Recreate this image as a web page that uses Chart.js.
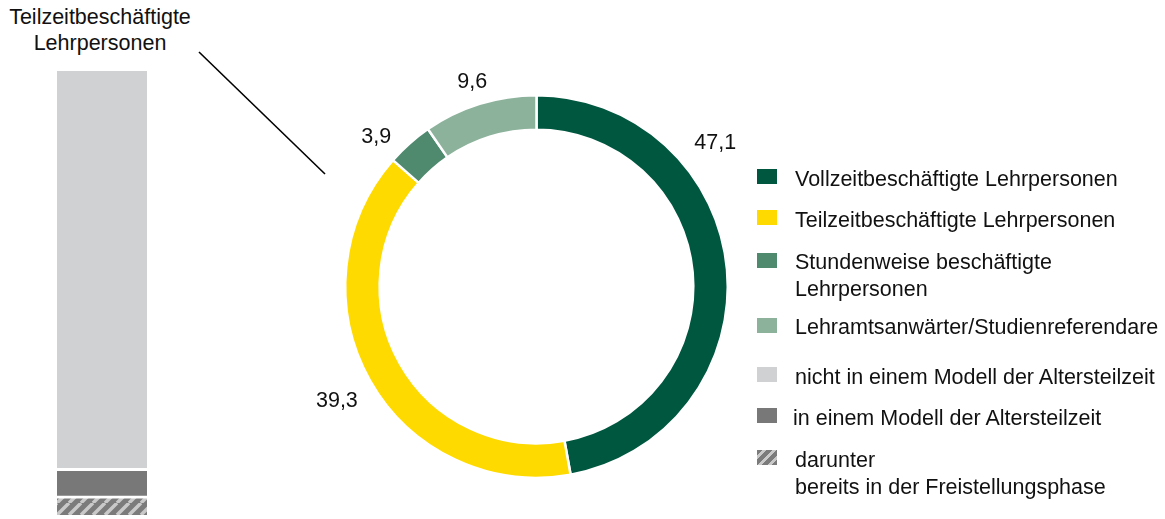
<!DOCTYPE html>
<html lang="de">
<head>
  <meta charset="UTF-8" />
  <title>Lehrpersonen nach Beschäftigungsumfang</title>
  <script src="https://cdn.jsdelivr.net/npm/chart.js"></script>
  <style>
    body {
      margin: 0;
      width: 1165px;
      height: 519px;
      overflow: hidden;
      background: #ffffff;
      font-family: 'Liberation Sans', Arial, sans-serif;
      color: #111111;
    }
    #ringChart {
      position: absolute;
      left: 0;
      top: 0;
    }
    #barChart {
      position: absolute;
      left: 57px;
      top: 71px;
    }
    .bar-title {
      position: absolute;
      left: 0;
      top: 4px;
      width: 200px;
      text-align: center;
      font-size: 21.5px;
      line-height: 26px;
    }
    .legend-item {
      position: absolute;
      font-size: 21.5px;
      line-height: 27px;
      white-space: nowrap;
    }
    .legend-box {
      position: absolute;
      left: 757px;
      width: 20px;
      height: 15px;
    }
  </style>
</head>
<body>
  <div class="bar-title">Teilzeitbeschäftigte<br>Lehrpersonen</div>
  <canvas id="ringChart" width="1165" height="519"></canvas>
  <canvas id="barChart" width="90" height="444"></canvas>
  <div id="legend"></div>

  <script>
    // Ring: Lehrpersonen nach Beschäftigungsumfang (in %)
    const ringLabels = [
      'Vollzeitbeschäftigte Lehrpersonen',
      'Teilzeitbeschäftigte Lehrpersonen',
      'Stundenweise beschäftigte Lehrpersonen',
      'Lehramtsanwärter/Studienreferendare'
    ];
    const ringValues = [47.1, 39.3, 3.9, 9.6];
    const ringColors = ['#00573f', '#ffda00', '#4f8a6f', '#8cb29c'];

    // Bar: Teilzeitbeschäftigte nach Altersteilzeit (in %)
    const barLabels = [
      'nicht in einem Modell der Altersteilzeit',
      'in einem Modell der Altersteilzeit',
      'darunter bereits in der Freistellungsphase'
    ];
    const barValues = [89.5, 6.2, 4.3];

    // where the value labels sit: share along the arc, distance beyond the ring
    const labelAlong = [0.3, 0.5, 0.14, 0.5];
    const labelGap = [39, 38, 29, 25];

    function fmt(v) {
      return v.toFixed(1).replace('.', ',');
    }

    function hatch() {
      const s = 12;
      const c = document.createElement('canvas');
      c.width = s;
      c.height = s;
      const g = c.getContext('2d');
      g.fillStyle = '#7b7b7b';
      g.fillRect(0, 0, s, s);
      g.strokeStyle = '#c9c9c9';
      g.lineWidth = 3.5;
      g.beginPath();
      for (let k = -1; k <= 1; k++) {
        g.moveTo(k * s, s);
        g.lineTo(k * s + s, 0);
      }
      g.stroke();
      return document.getElementById('barChart').getContext('2d').createPattern(c, 'repeat');
    }

    const valueLabels = {
      id: 'valueLabels',
      afterDatasetsDraw(chart) {
        const ctx = chart.ctx;
        const arcs = chart.getDatasetMeta(0).data;
        ctx.save();
        ctx.font = '21.5px "Liberation Sans", Arial, sans-serif';
        ctx.fillStyle = '#111111';
        ctx.textAlign = 'center';
        ctx.textBaseline = 'alphabetic';
        arcs.forEach((arc, i) => {
          const p = arc.getProps(['x', 'y', 'startAngle', 'endAngle', 'outerRadius'], true);
          const a = p.startAngle + (p.endAngle - p.startAngle) * labelAlong[i];
          const r = p.outerRadius + labelGap[i];
          ctx.fillText(fmt(ringValues[i]), p.x + Math.cos(a) * r, p.y + Math.sin(a) * r + 7.5);
        });
        // connector from the bar title to the ring
        ctx.strokeStyle = '#000000';
        ctx.lineWidth = 1.6;
        ctx.beginPath();
        ctx.moveTo(199, 52);
        ctx.lineTo(325, 174);
        ctx.stroke();
        ctx.restore();
      }
    };

    new Chart(document.getElementById('ringChart'), {
      type: 'doughnut',
      data: {
        labels: ringLabels,
        datasets: [{
          data: ringValues,
          backgroundColor: ringColors,
          borderColor: '#ffffff',
          borderWidth: 2.5
        }]
      },
      options: {
        responsive: false,
        animation: false,
        cutout: '82%',
        layout: { padding: { left: 344, right: 436, top: 94, bottom: 40 } },
        plugins: {
          legend: { display: false },
          tooltip: { enabled: false }
        }
      },
      plugins: [valueLabels]
    });

    const barColors = ['#d0d1d3', '#787878', hatch()];
    const barTop = [0, 3, 3];

    new Chart(document.getElementById('barChart'), {
      type: 'bar',
      data: {
        labels: [''],
        // stacked from the bottom: hatched, dark grey, light grey
        datasets: barValues.map((v, i) => ({
          label: barLabels[i],
          data: [v],
          backgroundColor: barColors[i],
          borderColor: '#ffffff',
          borderWidth: { top: barTop[i], left: 0, right: 0, bottom: 0 },
          borderSkipped: false,
          barPercentage: 1,
          categoryPercentage: 1
        })).reverse()
      },
      options: {
        responsive: false,
        animation: false,
        layout: { padding: 0 },
        scales: {
          x: { stacked: true, display: false },
          y: { stacked: true, display: false, min: 0, max: 100 }
        },
        plugins: {
          legend: { display: false },
          tooltip: { enabled: false }
        }
      }
    });

    // legend on the right
    const legendTexts = [
      'Vollzeitbeschäftigte Lehrpersonen',
      'Teilzeitbeschäftigte Lehrpersonen',
      'Stundenweise beschäftigte<br>Lehrpersonen',
      'Lehramtsanwärter/Studienreferendare',
      'nicht in einem Modell der Altersteilzeit',
      'in einem Modell der Altersteilzeit',
      'darunter<br>bereits in der Freistellungsphase'
    ];
    const legendFills = [
      ringColors[0], ringColors[1], ringColors[2], ringColors[3],
      '#d0d1d3', '#787878',
      'repeating-linear-gradient(135deg, #7b7b7b 0 4px, #c9c9c9 4px 7px)'
    ];
    const legendBaseline = [187, 228, 270, 335, 385, 426, 468];
    const legendBoxTop = [169, 210, 253, 318, 367, 408, 450];
    const legendTextX = [795, 795, 795, 795, 795, 793, 795];

    const legend = document.getElementById('legend');
    legendTexts.forEach((t, i) => {
      const box = document.createElement('div');
      box.className = 'legend-box';
      box.style.top = legendBoxTop[i] + 'px';
      box.style.background = legendFills[i];
      legend.appendChild(box);

      const txt = document.createElement('div');
      txt.className = 'legend-item';
      txt.style.left = legendTextX[i] + 'px';
      txt.style.top = (legendBaseline[i] - 21) + 'px';
      txt.innerHTML = t;
      legend.appendChild(txt);
    });
  </script>
</body>
</html>
